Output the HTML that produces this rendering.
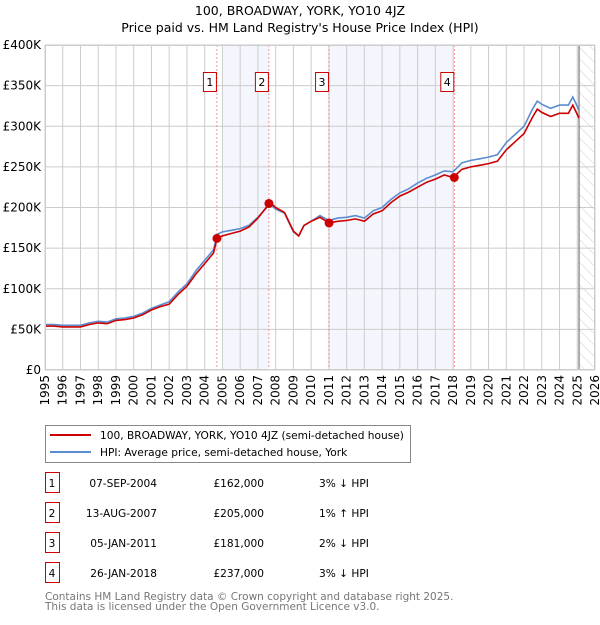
<!DOCTYPE html>
<html><head><meta charset="utf-8"><style>
body{margin:0;background:#fff;font-family:"Liberation Sans","DejaVu Sans",sans-serif;}
svg text{font-family:"DejaVu Sans","Liberation Sans",sans-serif;}
</style></head><body>
<svg id="c" width="600" height="620" xmlns="http://www.w3.org/2000/svg">
<defs><pattern id="hatch" width="8" height="8" patternUnits="userSpaceOnUse" patternTransform="rotate(-45)"><line x1="0" y1="0" x2="0" y2="8" stroke="#ccc" stroke-width="1"/></pattern></defs>
<text x="300" y="15" text-anchor="middle" font-size="12.5">100, BROADWAY, YORK, YO10 4JZ</text>
<text x="300" y="32" text-anchor="middle" font-size="12.5">Price paid vs. HM Land Registry's House Price Index (HPI)</text>
<g id="plot"></g>
<g>
<rect x="45.5" y="425.5" width="365" height="37" fill="#fff" stroke="#888"/>
<line x1="50" y1="435" x2="91" y2="435" stroke="#cc0000" stroke-width="2"/>
<text x="100" y="439" font-size="10.6">100, BROADWAY, YORK, YO10 4JZ (semi-detached house)</text>
<line x1="50" y1="452" x2="91" y2="452" stroke="#5b8ccf" stroke-width="2"/>
<text x="100" y="456" font-size="10.6">HPI: Average price, semi-detached house, York</text>
</g>
<g id="table" font-size="10.6"></g>
<text x="45" y="600" font-size="10.5" fill="#777">Contains HM Land Registry data © Crown copyright and database right 2025.</text>
<text x="45" y="610" font-size="10.5" fill="#777">This data is licensed under the Open Government Licence v3.0.</text>
</svg>
<script>
const hpiYears=[1995,1995.5,1996,1996.5,1997,1997.5,1998,1998.5,1999,1999.5,2000,2000.5,2001,2001.5,2002,2002.5,2003,2003.5,2004,2004.5,2004.7,2005,2005.5,2006,2006.5,2007,2007.5,2007.75,2008,2008.5,2009,2009.3,2009.6,2010,2010.5,2011,2011.5,2012,2012.5,2013,2013.5,2014,2014.5,2015,2015.5,2016,2016.5,2017,2017.5,2018,2018.5,2019,2019.5,2020,2020.5,2021,2021.5,2022,2022.5,2022.75,2023,2023.5,2024,2024.5,2024.75,2025.1];
const hpiValues=[56,56,55,55,55,58,60,59,63,64,66,70,76,80,84,96,106,122,135,148,167,170,172,174,178,188,200,203,198,193,170,165,178,183,190,184,187,188,190,187,196,200,210,218,223,230,236,240,245,244,255,258,260,262,265,280,290,300,322,331,327,322,326,326,336,320];
const propValues=[54,54,53,53,53,56,58,57,61,62,64,68,74,78,81,93,103,118,131,144,162,165,168,171,176,187,201,205,200,194,171,165,178,183,188,181,183,184,186,183,192,196,206,214,219,225,231,235,240,237,247,250,252,254,257,271,281,291,312,321,317,312,316,316,326,310];
const saleYears=[2004.69,2007.62,2011.01,2018.07];
const salePrices=[162,205,181,237];
const saleDates=["07-SEP-2004","13-AUG-2007","05-JAN-2011","26-JAN-2018"];
const salePriceLabels=["£162,000","£205,000","£181,000","£237,000"];
const saleHpiLabels=["3% ↓ HPI","1% ↑ HPI","2% ↓ HPI","3% ↓ HPI"];
const yTicks=[0,50,100,150,200,250,300,350,400];
const xTicks=[1995,1996,1997,1998,1999,2000,2001,2002,2003,2004,2005,2006,2007,2008,2009,2010,2011,2012,2013,2014,2015,2016,2017,2018,2019,2020,2021,2022,2023,2024,2025,2026];
const X0=45,X1=595,Y0=370,Y1=45;
const x=v=>X0+(v-1995)/31*(X1-X0);
const y=v=>Y0-v/400*(Y0-Y1);
const NS="http://www.w3.org/2000/svg";
const plot=document.getElementById('plot');
function mk(tag,attrs,parent){const e=document.createElementNS(NS,tag);for(const k in attrs)e.setAttribute(k,attrs[k]);(parent||plot).appendChild(e);return e;}
[[2005,saleYears[1]],[saleYears[2],saleYears[3]]].forEach(r=>{
 const e=mk('rect',{x:x(r[0]),y:Y1,width:x(r[1])-x(r[0]),height:Y0-Y1,fill:'#f3f6fd'});
 
 
});
const h=mk('rect',{x:x(2025.1),y:Y1,width:X1-x(2025.1),height:Y0-Y1,fill:'url(#hatch)'});


yTicks.forEach(t=>{
 const l=mk('line',{x1:X0,x2:X1,y1:y(t),y2:y(t),stroke:'#ccc'});
 
 
 const tx=mk('text',{x:X0-4,y:y(t)+4,'text-anchor':'end','font-size':'12'});
 tx.textContent=t===0?'£0':'£'+t+'K';
 
 
});
xTicks.forEach(t=>{
 const l=mk('line',{x1:x(t),x2:x(t),y1:Y1,y2:Y0,stroke:'#ccc'});
 
 
 const tx=mk('text',{x:0,y:0,'text-anchor':'end','font-size':'12',transform:`translate(${x(t)+4},${Y0+5}) rotate(-90)`});
 tx.textContent=t;
 
 
});
const nl=mk('line',{x1:x(2025.1),x2:x(2025.1),y1:Y1,y2:Y0,stroke:'#777','stroke-width':1.2});


saleYears.forEach((s,i)=>{
 const l=mk('line',{x1:x(s),x2:x(s),y1:Y1,y2:Y0,stroke:'#f77','stroke-dasharray':'2,2','stroke-width':0.8});
 
 
 const b=mk('rect',{x:x(s)-13.5,y:72.5,width:13,height:19,fill:'#fff',stroke:'#c00'});
 
 
 const t=mk('text',{x:x(s)-7,y:86,'text-anchor':'middle','font-size':'11'});
 t.textContent=i+1;
 
 
});
const path=(vals)=>hpiYears.map((yr,i)=>(i?'L':'M')+x(yr).toFixed(1)+','+y(vals[i]).toFixed(1)).join('');
const hp=mk('path',{d:path(hpiValues),fill:'none',stroke:'#5b8ccf','stroke-width':1.6});


const pp=mk('path',{d:path(propValues),fill:'none',stroke:'#cc0000','stroke-width':1.6});


saleYears.forEach((s,i)=>{
 const c=mk('circle',{cx:x(s),cy:y(salePrices[i]),r:4.5,fill:'#cc0000'});
 
 
});
const pb=mk('rect',{x:X0+0.5,y:Y1+0.5,width:X1-X0-1,height:Y0-Y1-1,fill:'none',stroke:'#ccc'});


const tb=document.getElementById('table');
saleDates.forEach((d,i)=>{
 const cy=483+i*30;
 const r=mk('rect',{x:45.5,y:cy-10.5,width:14,height:20,fill:'#fff',stroke:'#c00'},tb);
 
 
 const cols=[[52,String(i+1),'middle'],[157,d,'end'],[264,salePriceLabels[i],'end'],[319,saleHpiLabels[i],'start']];
 cols.forEach(c=>{
  const t=mk('text',{x:c[0],y:cy+4,'text-anchor':c[2]},tb);
  t.textContent=c[1];
  
  
 });
});
</script>
</body></html>
